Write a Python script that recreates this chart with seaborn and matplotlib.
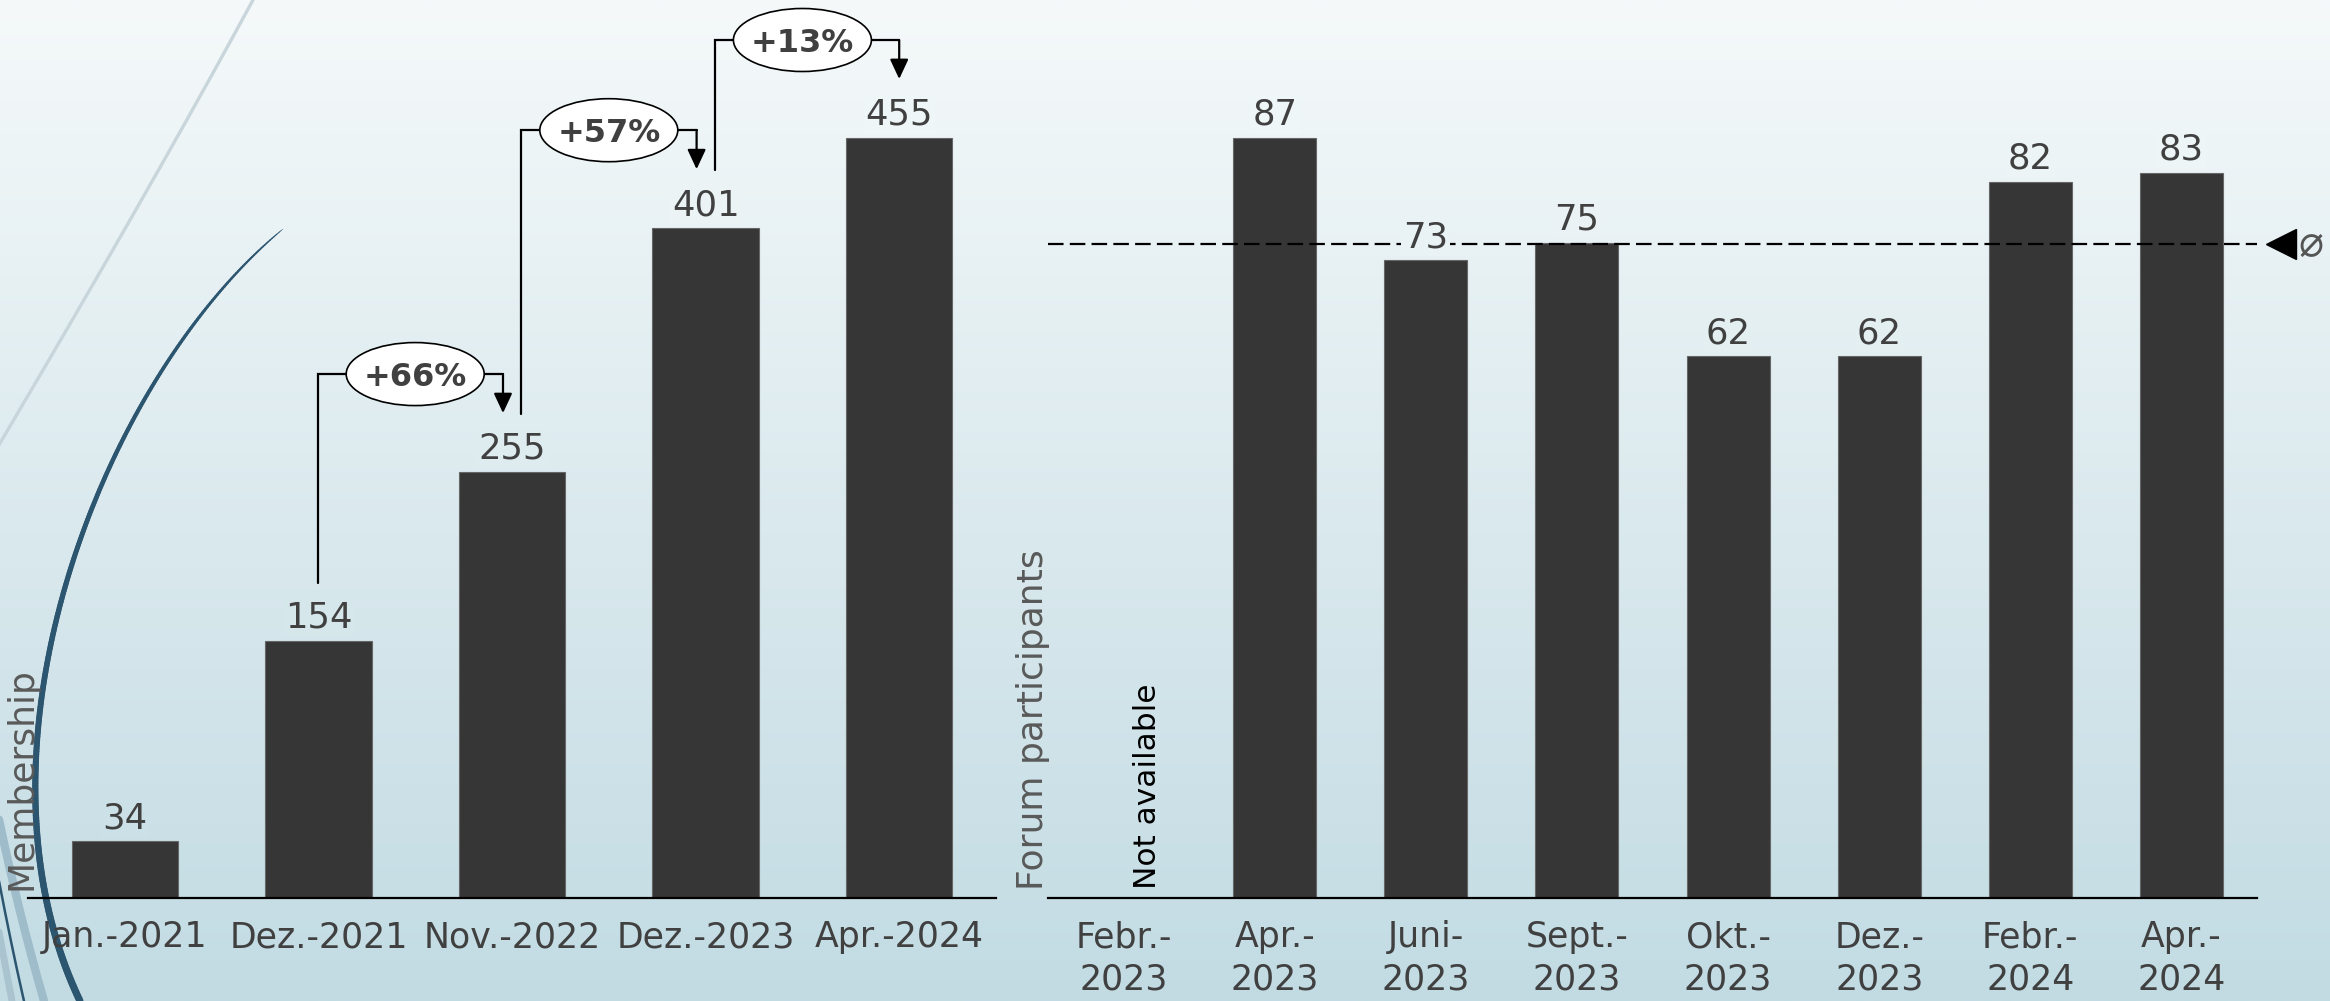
import numpy as np
import pandas as pd
import matplotlib
matplotlib.use("Agg")
import matplotlib.pyplot as plt
import matplotlib.colors as mcolors
import matplotlib.transforms as mtransforms
from matplotlib.patches import Ellipse
from matplotlib.collections import LineCollection
import seaborn as sns

# ---------------- data ----------------
members_cats = ["Jan.-2021", "Dez.-2021", "Nov.-2022", "Dez.-2023", "Apr.-2024"]
members_vals = [34, 154, 255, 401, 455]
growth_labels = ["+66%", "+57%", "+13%"]
growth_from = [1, 2, 3]          # bracket from bar i to bar i+1

forum_cats = ["Febr.-2023", "Apr.-2023", "Juni-2023", "Sept.-2023",
              "Okt.-2023", "Dez.-2023", "Febr.-2024", "Apr.-2024"]
forum_vals = [np.nan, 87, 73, 75, 62, 62, 82, 83]
missing_label = "Not available"
ylabel_left = "Membership"
ylabel_right = "Forum participants"
avg_symbol = "\u2300"

# ---------------- style ----------------
sns.set_theme(style="white")
plt.rcParams["font.family"] = ["DejaVu Sans"]

BAR = "#363636"
TXT = "#404040"
LBL = "#595959"

W, H = 2330, 1001
fig = plt.figure(figsize=(W / 100, H / 100), dpi=100)

# background gradient + decorative curves
top_c = np.array(mcolors.to_rgb("#f5f9fa"))
bot_c = np.array(mcolors.to_rgb("#c2dbe3"))


def grad_color(ypx):
    f = np.clip(ypx / H, 0, 1)
    return tuple(top_c * (1 - f) + bot_c * f)


bg = fig.add_axes([0, 0, 1, 1], zorder=0)
g = np.linspace(0, 1, 400)[:, None, None]
img = top_c[None, None, :] * (1 - g) + bot_c[None, None, :] * g
bg.imshow(img, aspect="auto", extent=[0, W, H, 0], interpolation="bilinear")
bg.set_xlim(0, W)
bg.set_ylim(H, 0)
bg.axis("off")


def bez(p, n=300):
    t = np.linspace(0, 1, n)[:, None]
    p = np.array(p, float)
    if len(p) == 3:
        return (1 - t) ** 2 * p[0] + 2 * (1 - t) * t * p[1] + t ** 2 * p[2]
    return ((1 - t) ** 3 * p[0] + 3 * (1 - t) ** 2 * t * p[1]
            + 3 * (1 - t) * t ** 2 * p[2] + t ** 3 * p[3])


c1 = bez([(253, 0), (150, 190), (-10, 460)])
bg.plot(c1[:, 0], c1[:, 1], color="#c8d6dc", lw=2.4, solid_capstyle="round")

c2 = bez([(283, 229), (100, 380), (-40, 750), (80, 1001)])
seg = np.stack([c2[:-1], c2[1:]], axis=1)
tt = np.linspace(0, 1, len(seg))
bg.add_collection(LineCollection(seg, linewidths=0.3 + 4.8 * np.sqrt(tt),
                                 colors="#2c5570", capstyle="round"))
c3 = bez([(-5, 800), (15, 900), (44, 1001)])
bg.plot(c3[:, 0], c3[:, 1], color="#9fbccb", lw=6)
c4 = bez([(-5, 860), (10, 940), (24, 1001)])
bg.plot(c4[:, 0], c4[:, 1], color="#2c5570", lw=1.8)
c5 = bez([(-5, 910), (5, 965), (12, 1001)])
bg.plot(c5[:, 0], c5[:, 1], color="#a9c3cf", lw=5)

# ---------------- axes geometry ----------------
L_left, L_right = 28, 996
R_left, R_right = 1048, 2257
base_y = 898
top_bar_y = 138
ax1 = fig.add_axes([L_left / W, (H - base_y) / H, (L_right - L_left) / W, base_y / H], zorder=2)
ax2 = fig.add_axes([R_left / W, (H - base_y) / H, (R_right - R_left) / W, base_y / H], zorder=2)

ymax1 = max(members_vals) * base_y / (base_y - top_bar_y)
ymax2 = np.nanmax(forum_vals) * base_y / (base_y - top_bar_y)

df1 = pd.DataFrame({"cat": members_cats, "val": members_vals})
df2 = pd.DataFrame({"cat": forum_cats, "val": forum_vals})

sns.barplot(data=df1, x="cat", y="val", order=members_cats, color=BAR, saturation=1,
            width=0.55, edgecolor="#666666", linewidth=0.8, errorbar=None, ax=ax1, zorder=2)
sns.barplot(data=df2, x="cat", y="val", order=forum_cats, color=BAR, saturation=1,
            width=0.55, edgecolor="#666666", linewidth=0.8, errorbar=None, ax=ax2, zorder=2)

ax1.set_xlim(-0.5, len(members_cats) - 0.5)
ax2.set_xlim(-0.5, len(forum_cats) - 0.5)
ax1.set_ylim(0, ymax1)
ax2.set_ylim(0, ymax2)

for ax in (ax1, ax2):
    ax.set_facecolor("none")
    for s in ["top", "right", "left"]:
        ax.spines[s].set_visible(False)
    ax.spines["bottom"].set_color("black")
    ax.spines["bottom"].set_linewidth(1.6)
    ax.spines["bottom"].set_zorder(3)
    ax.set_yticks([])
    ax.set_xlabel("")
    ax.set_ylabel("")
    ax.tick_params(axis="x", length=0, pad=16, labelsize=25, labelcolor=TXT)
    ax.grid(False)

ax2.set_xticks(range(len(forum_cats)))
ax2.set_xticklabels([c.replace("-", "-\n", 1) for c in forum_cats], linespacing=1.32)

# value labels
for ax, vals, ymax in ((ax1, members_vals, ymax1), (ax2, forum_vals, ymax2)):
    for i, v in enumerate(vals):
        if np.isnan(v):
            continue
        ypx = base_y - v / ymax * base_y - 25
        ax.annotate(f"{v:.0f}", (i, v), xytext=(0, 9.5), textcoords="offset points",
                    ha="center", va="baseline", fontsize=25.5, color=TXT, zorder=6,
                    bbox=dict(boxstyle="square,pad=0.05", fc=grad_color(ypx), ec="none"))

# missing value note
for i, v in enumerate(forum_vals):
    if np.isnan(v):
        ax2.annotate(missing_label, (i, 0), xytext=(17, 6.5), textcoords="offset points",
                     rotation=90, ha="center", va="bottom", fontsize=22.5, color="black")

# y labels
ax1.text(-0.0062, 0.009, ylabel_left, rotation=90, ha="center", va="bottom",
         transform=ax1.transAxes, fontsize=26, color=LBL)
ax2.text(-0.0124, 0.009, ylabel_right, rotation=90, ha="center", va="bottom",
         transform=ax2.transAxes, fontsize=26, color=LBL)

# growth brackets
dx = len(members_cats) / (L_right - L_left)   # data units per pixel (x)
dy = ymax1 / base_y                            # data units per pixel (y)
for i, lab in zip(growth_from, growth_labels):
    j = i + 1
    v0, v1 = members_vals[i], members_vals[j]
    x0 = i + (9 * dx if (i - 1) in growth_from else 0)
    x1 = j - (9 * dx if j in growth_from else 0)
    y0 = v0 + 58 * dy
    yl = v1 + 98 * dy
    yt = v1 + 59 * dy
    ax1.plot([x0, x0, x1], [y0, yl, yl], color="black", lw=1.6, clip_on=False,
             zorder=4, solid_joinstyle="miter")
    ax1.annotate("", xy=(x1, yt), xytext=(x1, yl),
                 arrowprops=dict(arrowstyle="-|>,head_length=0.6,head_width=0.28",
                                 color="black", lw=1.6, shrinkA=0, shrinkB=0,
                                 mutation_scale=20),
                 zorder=4, annotation_clip=False)
    ax1.add_patch(Ellipse(((i + j) / 2, yl), width=138 * dx, height=63 * dy,
                          facecolor="white", edgecolor="black", lw=1.2, zorder=5,
                          clip_on=False))
    ax1.text((i + j) / 2, yl, lab, ha="center", va="center_baseline", fontsize=23,
             fontweight="bold", color=TXT, zorder=6)

# average line
avg = np.nanmean(forum_vals)
ax2.axhline(avg, color="black", lw=1.6, dashes=(7.0, 2.8), zorder=3)
blend = mtransforms.blended_transform_factory(ax2.transAxes, ax2.transData)
ax2.plot([1.0198], [avg], marker="<", markersize=22, color="black",
         transform=blend, clip_on=False, zorder=4)
ax2.text(1.0345, avg, avg_symbol, transform=blend, ha="left", va="center",
         fontsize=30, color="#555555")

fig.savefig("out.png", dpi=100)
